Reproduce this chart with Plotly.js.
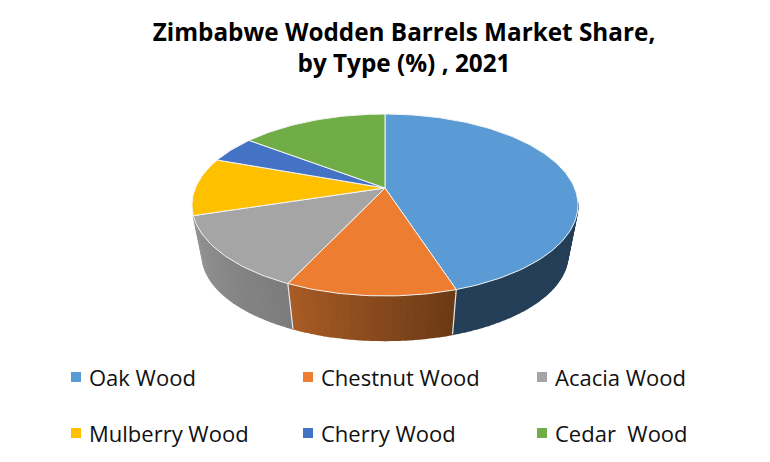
<!DOCTYPE html>
<html>
<head>
<meta charset="utf-8">
<script src="https://cdn.plot.ly/plotly-3.0.1.min.js"></script>
<style>html,body{margin:0;padding:0;background:#fff}#chart{width:770px;height:462px}</style>
</head>
<body>
<div id="chart"></div>
<script>
// Data
const categories = ["Oak Wood", "Chestnut Wood", "Acacia Wood", "Mulberry Wood", "Cherry Wood", "Cedar  Wood"];
const shares = [45, 12, 13.2, 10.3, 4.8, 14.7];
const colors = ["#5B9BD5", "#ED7D31", "#A5A5A5", "#FFC000", "#4472C4", "#70AD47"];
// Only the front slices show an outer wall; the back ones have none in view
const wallRight = ["#243F57", "#6B3A16", "#7C7C7C"];
const wallLeft  = ["#243F57", "#A85B25", "#939393"];

// Perspective disc used to place the pie on the page
const cx = 385, apexY = 188, tiltA = 189.6, tiltB = 87.8, persp = 0.1868;
const rimCy = 205, baseCy = 254.5, baseSx = 0.948, baseSy = 0.945;

function topPoint(frac) {
  const a = 2 * Math.PI * frac, u = Math.sin(a), v = Math.cos(a), w = 1 + persp * v;
  return [cx + tiltA * u / w, apexY - tiltB * v / w];
}
function basePoint(frac) {
  const p = topPoint(frac);
  return [cx + baseSx * (p[0] - cx), baseCy + baseSy * (p[1] - rimCy)];
}
function hex(c) { return [1, 3, 5].map(i => parseInt(c.substr(i, 2), 16)); }
function mix(c1, c2, t) {
  const a = hex(c1), b = hex(c2);
  return "rgb(" + a.map((x, i) => Math.round(x + (b[i] - x) * t)).join(",") + ")";
}

const total = shares.reduce((s, v) => s + v, 0);
const walls = [], tops = [], seams = [];
let cum = 0;
shares.forEach((val, i) => {
  const f0 = cum / total, f1 = (cum + val) / total;
  cum += val;
  if (i < wallRight.length) {
    // outer wall, drawn as narrow strips so that it can shade across the slice
    const strips = Math.max(6, Math.round(val * 2));
    for (let k = 0; k < strips; k++) {
      const a = f0 + (f1 - f0) * k / strips, b = f0 + (f1 - f0) * (k + 1) / strips;
      const t1 = topPoint(a), t2 = topPoint(b), b1 = basePoint(a), b2 = basePoint(b);
      if (t2[1] < rimCy) continue; // back of the rim: hidden behind the top face
      const col = mix(wallRight[i], wallLeft[i], k / (strips - 1));
      walls.push({
        type: "scatter", mode: "lines", x: [t1[0], t2[0], b2[0], b1[0], t1[0]], y: [t1[1], t2[1], b2[1], b1[1], t1[1]],
        fill: "toself", fillcolor: col, line: {color: col, width: 1.4}, hoverinfo: "skip", showlegend: false
      });
    }
    // light seam where two front slices meet on the wall
    if (i < wallRight.length - 1) {
      const st = topPoint(f1), sb = basePoint(f1);
      seams.push({
        type: "scatter", mode: "lines", x: [st[0], sb[0]], y: [st[1], sb[1]],
        line: {color: "#E8E8E8", width: 1.2}, hoverinfo: "skip", showlegend: false
      });
    }
  }
  // top face of the slice
  const xs = [cx], ys = [apexY];
  const n = Math.max(8, Math.round(val * 3));
  for (let k = 0; k <= n; k++) {
    const p = topPoint(f0 + (f1 - f0) * k / n);
    xs.push(p[0]); ys.push(p[1]);
  }
  xs.push(cx); ys.push(apexY);
  tops.push({
    type: "scatter", mode: "lines", x: xs, y: ys, fill: "toself", fillcolor: colors[i],
    line: {color: "#F4F4F4", width: 1}, name: categories[i], text: val + "%",
    hoverinfo: "name+text", showlegend: false
  });
});

// Legend layout (three columns, two rows)
const legendCols = [71, 303, 537], legendRows = [377, 433], swatch = 10, textGap = 16;
const shapes = [], annotations = [];
categories.forEach((c, i) => {
  const x = legendCols[i % 3], y = legendRows[Math.floor(i / 3)];
  shapes.push({type: "rect", xref: "x", yref: "y", x0: x, x1: x + swatch, y0: y - swatch / 2, y1: y + swatch / 2,
    fillcolor: colors[i], line: {width: 0}});
  annotations.push({xref: "x", yref: "y", x: x + textGap, y: y, text: c, showarrow: false, xanchor: "left", yanchor: "middle",
    font: {family: "Open Sans, sans-serif", size: 22, color: "#111111"}});
});

const layout = {
  width: 770, height: 462, margin: {l: 0, r: 0, t: 0, b: 0},
  paper_bgcolor: "#ffffff", plot_bgcolor: "#ffffff", showlegend: false,
  title: {text: "<b>Zimbabwe Wodden Barrels Market Share,<br>by Type (%) , 2021</b>",
    x: 404 / 770, xanchor: "center", xref: "paper", y: 0.912, yanchor: "top", yref: "paper",
    font: {family: "Open Sans, sans-serif", size: 24.3, color: "#000000"}},
  xaxis: {range: [0, 770], visible: false, fixedrange: true},
  yaxis: {range: [462, 0], visible: false, fixedrange: true},
  shapes, annotations
};
Plotly.newPlot("chart", walls.concat(seams, tops), layout, {displayModeBar: false});
</script>
</body>
</html>
